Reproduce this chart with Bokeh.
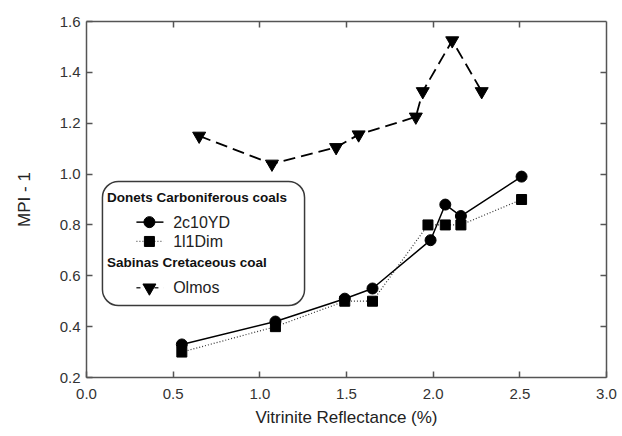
from bokeh.plotting import figure
from bokeh.models import (Range1d, LinearAxis, FixedTicker, PrintfTickFormatter,
                          BoxAnnotation, Label)
from bokeh.embed import file_html
from bokeh.resources import INLINE

# ---- data ----
x_2c10YD = [0.55, 1.09, 1.49, 1.65, 1.985, 2.07, 2.16, 2.51]
y_2c10YD = [0.33, 0.42, 0.51, 0.55, 0.74, 0.88, 0.835, 0.99]

x_1l1Dim = [0.55, 1.09, 1.49, 1.65, 1.97, 2.07, 2.16, 2.51]
y_1l1Dim = [0.30, 0.40, 0.50, 0.50, 0.80, 0.80, 0.80, 0.90]

x_olmos = [0.65, 1.07, 1.44, 1.57, 1.90, 1.94, 2.11, 2.28]
y_olmos = [1.15, 1.04, 1.105, 1.155, 1.225, 1.325, 1.525, 1.325]

x_ticks = [0.0, 0.5, 1.0, 1.5, 2.0, 2.5, 3.0]
y_ticks = [0.2, 0.4, 0.6, 0.8, 1.0, 1.2, 1.4, 1.6]

FONT = "Liberation Sans"

p = figure(width=622, height=436, output_backend="svg",
           toolbar_location=None, x_range=Range1d(0, 3), y_range=Range1d(0.2, 1.6),
           min_border_left=86, min_border_top=21, min_border_right=16,
           min_border_bottom=59, x_axis_location=None, y_axis_location=None)
p.grid.visible = False
p.outline_line_color = None
p.background_fill_color = "white"
p.border_fill_color = "white"

AX = "#555555"

def style_axis(ax, labels=True):
    ax.axis_line_color = AX
    ax.axis_line_width = 1.5
    ax.major_tick_in = 6
    ax.major_tick_out = 0
    ax.major_tick_line_color = AX
    ax.major_tick_line_width = 1.5
    ax.minor_tick_line_color = None
    ax.major_label_text_font = FONT
    ax.major_label_text_font_size = "15px"
    ax.major_label_text_color = "#333333"
    ax.axis_label_text_font = FONT
    ax.axis_label_text_font_size = "17px"
    ax.axis_label_text_font_style = "normal"
    ax.axis_label_text_color = "#222222"
    ax.formatter = PrintfTickFormatter(format="%.1f")
    if not labels:
        ax.major_label_text_font_size = "1px"
        ax.major_label_text_color = None
        ax.major_label_standoff = 0

xb = LinearAxis(axis_label="Vitrinite Reflectance (%)", ticker=FixedTicker(ticks=x_ticks))
style_axis(xb)
xb.major_label_standoff = 11
xb.axis_label_standoff = 6
p.add_layout(xb, "below")

xt = LinearAxis(ticker=FixedTicker(ticks=x_ticks[1:-1]))
style_axis(xt, labels=False)
p.add_layout(xt, "above")

yl = LinearAxis(axis_label="MPI - 1", ticker=FixedTicker(ticks=y_ticks))
style_axis(yl)
yl.major_label_standoff = 6
yl.axis_label_standoff = 23
p.add_layout(yl, "left")

yr = LinearAxis(ticker=FixedTicker(ticks=y_ticks[1:-1]))
style_axis(yr, labels=False)
p.add_layout(yr, "right")

# ---- series ----
p.line(x_olmos, y_olmos, line_color="black", line_width=1.8, line_dash="12 6")
p.scatter(x_olmos, y_olmos, marker="inverted_triangle", size=13, color="black")

p.line(x_1l1Dim, y_1l1Dim, line_color="#333333", line_width=1.2, line_dash="1 2")
p.scatter(x_1l1Dim, y_1l1Dim, marker="square", size=10, color="black")

p.line(x_2c10YD, y_2c10YD, line_color="black", line_width=1.5)
p.scatter(x_2c10YD, y_2c10YD, marker="circle", size=11, color="black")

# ---- legend (drawn manually) ----
leg_box = BoxAnnotation(left=0.092, right=1.258, top=0.971, bottom=0.483,
                        fill_color="white", fill_alpha=1.0, line_color="#3a3a3a",
                        line_alpha=1.0, line_width=1.5, border_radius=16,
                        level="annotation")
p.add_layout(leg_box)

hdr = dict(text_font=FONT, text_font_size="13.5px", text_font_style="bold",
           text_baseline="middle", text_color="#111111", level="overlay")
ent = dict(text_font=FONT, text_font_size="16px", text_baseline="middle",
           text_color="#222222", level="overlay")
p.add_layout(Label(x=0.118, y=0.908, text="Donets Carboniferous coals", **hdr))
p.add_layout(Label(x=0.118, y=0.653, text="Sabinas Cretaceous coal", **hdr))
p.add_layout(Label(x=0.50, y=0.811, text="2c10YD", **ent))
p.add_layout(Label(x=0.50, y=0.735, text="1l1Dim", **ent))
p.add_layout(Label(x=0.50, y=0.553, text="Olmos", **ent))

leg_lx = [0.288, 0.444]
leg_mx = [0.363]
p.line(leg_lx, [0.811, 0.811], line_color="black", line_width=1.5, level="overlay")
p.scatter(leg_mx, [0.811], marker="circle", size=11, color="black", level="overlay")
p.line(leg_lx, [0.735, 0.735], line_color="#555555", line_width=1.2, line_dash="1 2", level="overlay")
p.scatter(leg_mx, [0.735], marker="square", size=10, color="black", level="overlay")
p.line(leg_lx, [0.553, 0.553], line_color="#333333", line_width=1.5, line_dash="4 5", level="overlay")
p.scatter(leg_mx, [0.553], marker="inverted_triangle", size=13, color="black", level="overlay")

open("out.html", "w").write(file_html(p, INLINE))
